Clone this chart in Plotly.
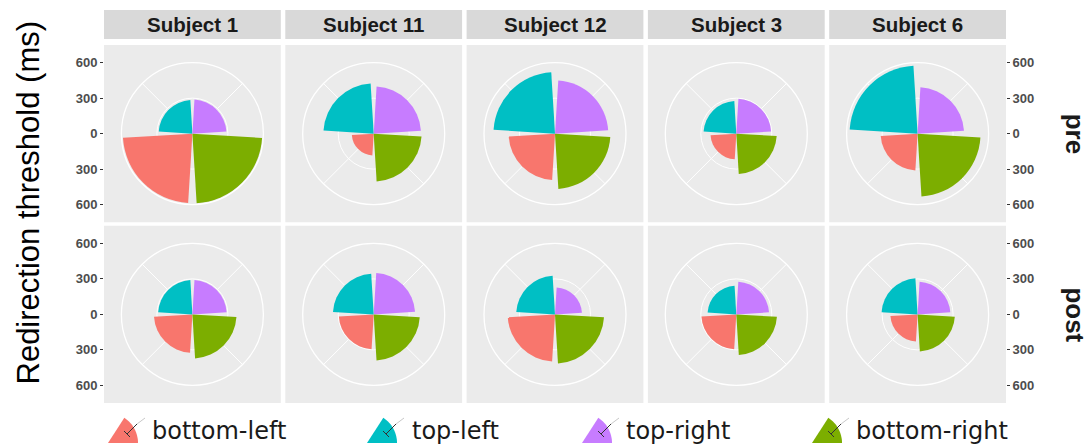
import numpy as np
import plotly.graph_objects as go

# ---- data -------------------------------------------------------------
subjects = ["Subject 1", "Subject 11", "Subject 12", "Subject 3", "Subject 6"]
sessions = ["pre", "post"]
directions = ["bottom-left", "top-left", "top-right", "bottom-right"]
direction_angles = [225, 315, 45, 135]          # compass angle of each quadrant
direction_colors = ["#F8766D", "#00BFC4", "#C77CFF", "#7CAE00"]

# redirection thresholds (ms), one value per subject
pre_bottom_left = [588, 185, 392, 218, 312]
pre_top_left = [285, 425, 520, 277, 575]
pre_top_right = [288, 400, 450, 295, 393]
pre_bottom_right = [590, 405, 468, 342, 532]

post_bottom_left = [325, 295, 400, 295, 230]
post_top_left = [290, 345, 328, 243, 305]
post_top_right = [290, 350, 228, 277, 277]
post_bottom_right = [373, 390, 415, 344, 315]

radial_ticks = [-600, -300, 0, 300, 600]
radial_tick_text = ["600", "300", "0", "300", "600"]

thresholds = {
    "pre": [pre_bottom_left, pre_top_left, pre_top_right, pre_bottom_right],
    "post": [post_bottom_left, post_top_left, post_top_right, post_bottom_right],
}

# ---- geometry (pixels) ------------------------------------------------
W, H = 1089, 447
panel_left, panel_right = 104, 1006
panel_top, panel_bottom = 45, 403
gap_x, gap_y = 4.5, 3.5
col_w = (panel_right - panel_left - 4 * gap_x) / 5
row_h = (panel_bottom - panel_top - gap_y) / 2
r_max_px = 71.0            # pixel radius of the 600 ms circle
r_max = 600
strip_top, strip_bottom = 10, 39

PANEL_BG = "#EBEBEB"
STRIP_BG = "#D9D9D9"


def px(x):
    return x / W


def py(y):
    return 1 - y / H


def col_span(c):
    x0 = panel_left + c * (col_w + gap_x)
    return x0, x0 + col_w


def row_span(r):
    y0 = panel_top + r * (row_h + gap_y)
    return y0, y0 + row_h


def label(text, x, y, size, family="Liberation Sans", weight="normal", color="#1A1A1A",
          angle=0, xanchor="center"):
    return dict(text=text, x=px(x), y=py(y), xref="paper", yref="paper",
                xanchor=xanchor, yanchor="middle", showarrow=False, textangle=angle,
                font=dict(family=family, size=size, color=color, weight=weight))


def segment(xa, ya, xb, yb, color, width=1):
    return dict(type="line", xref="paper", yref="paper", x0=px(xa), y0=py(ya),
                x1=px(xb), y1=py(yb), line=dict(color=color, width=width), layer="above")


fig = go.Figure()
shapes = []
annotations = []
layout_extra = {}

k = 0
for r, session in enumerate(sessions):
    y0, y1 = row_span(r)
    cy = (y0 + y1) / 2
    for c, subject in enumerate(subjects):
        k += 1
        x0, x1 = col_span(c)
        cx = (x0 + x1) / 2
        shapes.append(dict(type="rect", xref="paper", yref="paper",
                           x0=px(x0), x1=px(x1), y0=py(y1), y1=py(y0),
                           fillcolor=PANEL_BG, line=dict(width=0), layer="below"))
        name = "polar" if k == 1 else f"polar{k}"
        layout_extra[name] = dict(
            domain=dict(x=[px(cx - r_max_px), px(cx + r_max_px)],
                        y=[py(cy + r_max_px), py(cy - r_max_px)]),
            bgcolor=PANEL_BG,
            radialaxis=dict(range=[0, r_max], tickvals=[300], showticklabels=False,
                            ticks="", showline=False, gridcolor="white", gridwidth=1.3),
            angularaxis=dict(direction="clockwise", rotation=90, tickmode="array",
                             tickvals=[45, 135, 225, 315], showticklabels=False,
                             ticks="", showline=True, linecolor="white", linewidth=1.3,
                             gridcolor="white", gridwidth=1.3),
        )
        values = [series[c] for series in thresholds[session]]
        fig.add_trace(go.Barpolar(
            r=values, theta=direction_angles, width=[83] * 4,
            marker=dict(color=direction_colors, line=dict(width=0)),
            subplot=name, showlegend=False, hoverinfo="r+theta"))

    # row label on the right
    annotations.append(label(session, 1075, cy, 26, weight="bold", angle=90))

# strips with subject names
for c, subject in enumerate(subjects):
    x0, x1 = col_span(c)
    shapes.append(dict(type="rect", xref="paper", yref="paper",
                       x0=px(x0), x1=px(x1), y0=py(strip_bottom), y1=py(strip_top),
                       fillcolor=STRIP_BG, line=dict(width=0), layer="below"))
    annotations.append(label(subject, (x0 + x1) / 2, (strip_top + strip_bottom) / 2, 20.5,
                             weight="bold"))

# radial scale axes: left of first column, right of last column
y_half = r_max * (row_h / 2) / r_max_px
tick_font = dict(family="Liberation Sans", size=13, color="#4D4D4D", weight="bold")
ax_i = 0
for r in range(2):
    y0, y1 = row_span(r)
    for c, side in [(0, "left"), (4, "right")]:
        ax_i += 1
        x0, x1 = col_span(c)
        xa = "xaxis" if ax_i == 1 else f"xaxis{ax_i}"
        ya = "yaxis" if ax_i == 1 else f"yaxis{ax_i}"
        xs = "x" if ax_i == 1 else f"x{ax_i}"
        ys = "y" if ax_i == 1 else f"y{ax_i}"
        layout_extra[xa] = dict(domain=[px(x0), px(x1)], anchor=ys, visible=False,
                                range=[0, 1], fixedrange=True)
        layout_extra[ya] = dict(domain=[py(y1), py(y0)], anchor=xs, side=side,
                                range=[-y_half, y_half], tickmode="array",
                                tickvals=radial_ticks, ticktext=radial_tick_text,
                                ticks="outside", ticklen=3, tickwidth=1, tickcolor="#333333",
                                showgrid=False, zeroline=False, showline=False,
                                tickfont=tick_font, fixedrange=True)
        fig.add_trace(go.Scatter(x=[], y=[], xaxis=xs, yaxis=ys, showlegend=False))

# y title
annotations.append(label("Redirection threshold (ms)", 27.5, 203, 31, color="#000000",
                         angle=-90))

# legend: wedge keys with a small whisker glyph, and labels
legend_key_x = [108, 367, 582, 812]
legend_text_x = [150, 410, 624, 854]
key_bottom = 443
key_radius = 30
for name, color, kx, tx in zip(directions, direction_colors, legend_key_x, legend_text_x):
    ang = np.linspace(0, np.radians(57), 20)
    pts = [(kx, key_bottom)] + [(kx + key_radius * np.cos(a), key_bottom - key_radius * np.sin(a))
                                for a in ang]
    path = "M " + " L ".join(f"{px(x):.5f},{py(y):.5f}" for x, y in pts) + " Z"
    shapes.append(dict(type="path", xref="paper", yref="paper", path=path,
                       fillcolor=color, line=dict(width=0), layer="above"))
    shapes.append(segment(kx + 29, 424, kx + 37, 418, "#C8C8C8", 1))
    shapes.append(segment(kx + 19, 434, kx + 29, 424, "#333333", 1))
    shapes.append(segment(kx + 16, 431, kx + 22, 437, "#333333", 1))
    annotations.append(label(name, tx, 431, 24, family="DejaVu Sans", xanchor="left"))

fig.update_layout(
    width=W, height=H,
    margin=dict(l=0, r=0, t=0, b=0),
    paper_bgcolor="white", plot_bgcolor="rgba(0,0,0,0)",
    shapes=shapes, annotations=annotations, showlegend=False,
    **layout_extra,
)

fig.write_html("out.html")
